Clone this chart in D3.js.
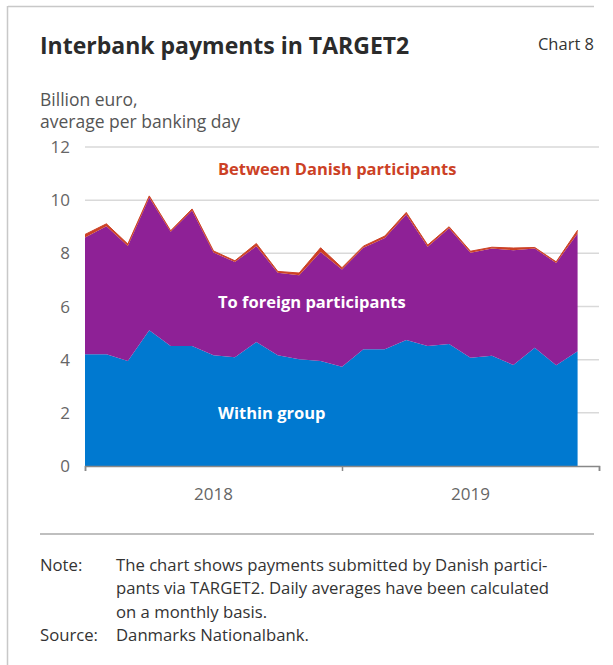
<!DOCTYPE html>
<html>
<head>
<meta charset="utf-8">
<script src="https://cdn.jsdelivr.net/npm/d3@7"></script>
<style>
  body { margin: 0; background: #fff; }
  svg { display: block; font-family: "Open Sans", "Noto Sans", sans-serif; }
</style>
</head>
<body>
<div id="chart"></div>
<script>
// Monthly observations, Jan 2018 - Dec 2019 (billion euro per banking day)
const months = ["2018-01","2018-02","2018-03","2018-04","2018-05","2018-06","2018-07","2018-08","2018-09","2018-10","2018-11","2018-12",
                "2019-01","2019-02","2019-03","2019-04","2019-05","2019-06","2019-07","2019-08","2019-09","2019-10","2019-11","2019-12"];
const withinGroup = [4.20, 4.20, 3.95, 5.11, 4.51, 4.51, 4.17, 4.09, 4.66, 4.17, 4.02, 3.95,
                     3.73, 4.39, 4.39, 4.74, 4.51, 4.59, 4.07, 4.15, 3.80, 4.45, 3.79, 4.32];
const toForeign = [4.40, 4.82, 4.33, 4.99, 4.30, 5.10, 3.86, 3.58, 3.61, 3.10, 3.16, 4.10,
                   3.66, 3.82, 4.19, 4.72, 3.74, 4.35, 3.95, 4.03, 4.32, 3.73, 3.85, 4.43];
const betweenDanish = [0.11, 0.09, 0.07, 0.06, 0.04, 0.06, 0.06, 0.05, 0.10, 0.05, 0.08, 0.16,
                       0.07, 0.06, 0.07, 0.08, 0.06, 0.06, 0.06, 0.05, 0.08, 0.04, 0.04, 0.12];
const yTicks = [0, 2, 4, 6, 8, 10, 12];
const years = ["2018", "2019"];

const W = 613, H = 665;
const margin = {left: 85, right: 14, top: 147, bottom: 199};
const width = W - margin.left - margin.right;
const height = H - margin.top - margin.bottom;

const svg = d3.select("#chart").append("svg")
    .attr("width", W)
    .attr("height", H);

// frame (top and left edges only)
svg.append("line").attr("x1", 8).attr("x2", 594).attr("y1", 6.5).attr("y2", 6.5)
    .attr("stroke", "#c8c8c8").attr("stroke-width", 1.5);
svg.append("line").attr("x1", 7.5).attr("x2", 7.5).attr("y1", 6).attr("y2", H)
    .attr("stroke", "#c8c8c8").attr("stroke-width", 1.5);

// title and headings
svg.append("text").attr("x", 40).attr("y", 54)
    .attr("font-size", 23).attr("font-weight", 700).attr("fill", "#2b2b2b")
    .text("Interbank payments in TARGET2");
svg.append("text").attr("x", 594).attr("y", 50).attr("text-anchor", "end")
    .attr("font-size", 16.5).attr("fill", "#333")
    .text("Chart 8");
svg.append("text").attr("x", 40).attr("y", 106)
    .attr("font-size", 17.5).attr("fill", "#555")
    .text("Billion euro,");
svg.append("text").attr("x", 40).attr("y", 128)
    .attr("font-size", 17.5).attr("fill", "#555")
    .text("average per banking day");

const g = svg.append("g").attr("transform", "translate(" + margin.left + "," + margin.top + ")");

// x runs over month index, a year spans 12 months
const x = d3.scaleLinear().domain([0, 24]).range([0, width]);
const y = d3.scaleLinear().domain([0, 12]).range([height, 0]);

// gridlines
g.selectAll("line.grid")
    .data(yTicks.slice(1))
    .join("line")
    .attr("class", "grid")
    .attr("x1", 0).attr("x2", width)
    .attr("y1", d => y(d)).attr("y2", d => y(d))
    .attr("stroke", "#d9d9d9").attr("stroke-width", 1.5);

// stacked areas
const rows = months.map((m, i) => ({i: i, within: withinGroup[i], foreign: toForeign[i], danish: betweenDanish[i]}));
const keys = ["within", "foreign", "danish"];
const colors = {within: "#0079d0", foreign: "#8e2196", danish: "#cc4125"};
const series = d3.stack().keys(keys)(rows);

const area = d3.area()
    .x(d => x(d.data.i))
    .y0(d => y(d[0]))
    .y1(d => y(d[1]));

g.selectAll("path.layer")
    .data(series)
    .join("path")
    .attr("class", "layer")
    .attr("d", area)
    .attr("fill", d => colors[d.key]);

// thin outline on top of the Danish layer so it stays visible
g.append("path")
    .datum(series[2])
    .attr("d", d3.line().x(d => x(d.data.i)).y(d => y(d[1])))
    .attr("fill", "none")
    .attr("stroke", colors.danish)
    .attr("stroke-width", 1);

// y axis labels
g.selectAll("text.ytick")
    .data(yTicks)
    .join("text")
    .attr("class", "ytick")
    .attr("x", -15)
    .attr("y", d => y(d) + 6)
    .attr("text-anchor", "end")
    .attr("font-size", 17)
    .attr("fill", "#666")
    .text(d => d);

// x axis
const xAxis = g.append("g")
    .attr("transform", "translate(0," + height + ")")
    .call(d3.axisBottom(x).tickValues([0, 12, 24]).tickSize(5).tickFormat(""));
xAxis.select(".domain").attr("stroke", "#888").attr("stroke-width", 1.5);
xAxis.selectAll(".tick line").attr("stroke", "#888").attr("stroke-width", 1.5);

g.selectAll("text.year")
    .data(years)
    .join("text")
    .attr("class", "year")
    .attr("x", (d, i) => x(i * 12 + 6))
    .attr("y", height + 34)
    .attr("text-anchor", "middle")
    .attr("font-size", 17)
    .attr("fill", "#666")
    .text(d => d);

// series labels
const labels = [
    {text: "Between Danish participants", v: 10.95, fill: colors.danish},
    {text: "To foreign participants", v: 5.95, fill: "#fff"},
    {text: "Within group", v: 1.75, fill: "#fff"}
];
g.selectAll("text.series")
    .data(labels)
    .join("text")
    .attr("class", "series")
    .attr("x", 133)
    .attr("y", d => y(d.v))
    .attr("font-size", 16.5)
    .attr("font-weight", 700)
    .attr("fill", d => d.fill)
    .text(d => d.text);

// separator and notes
svg.append("line").attr("x1", 40).attr("x2", 594).attr("y1", 534).attr("y2", 534)
    .attr("stroke", "#aaa").attr("stroke-width", 1.5);

const notes = [
    ["Note:", "The chart shows payments submitted by Danish partici-"],
    ["", "pants via TARGET2. Daily averages have been calculated"],
    ["", "on a monthly basis."],
    ["Source:", "Danmarks Nationalbank."]
];
notes.forEach((n, i) => {
    const yy = 571 + i * 23.3;
    svg.append("text").attr("x", 40).attr("y", yy)
        .attr("font-size", 16.7).attr("fill", "#333").text(n[0]);
    svg.append("text").attr("x", 116).attr("y", yy)
        .attr("font-size", 16.7).attr("fill", "#333").text(n[1]);
});
</script>
</body>
</html>
